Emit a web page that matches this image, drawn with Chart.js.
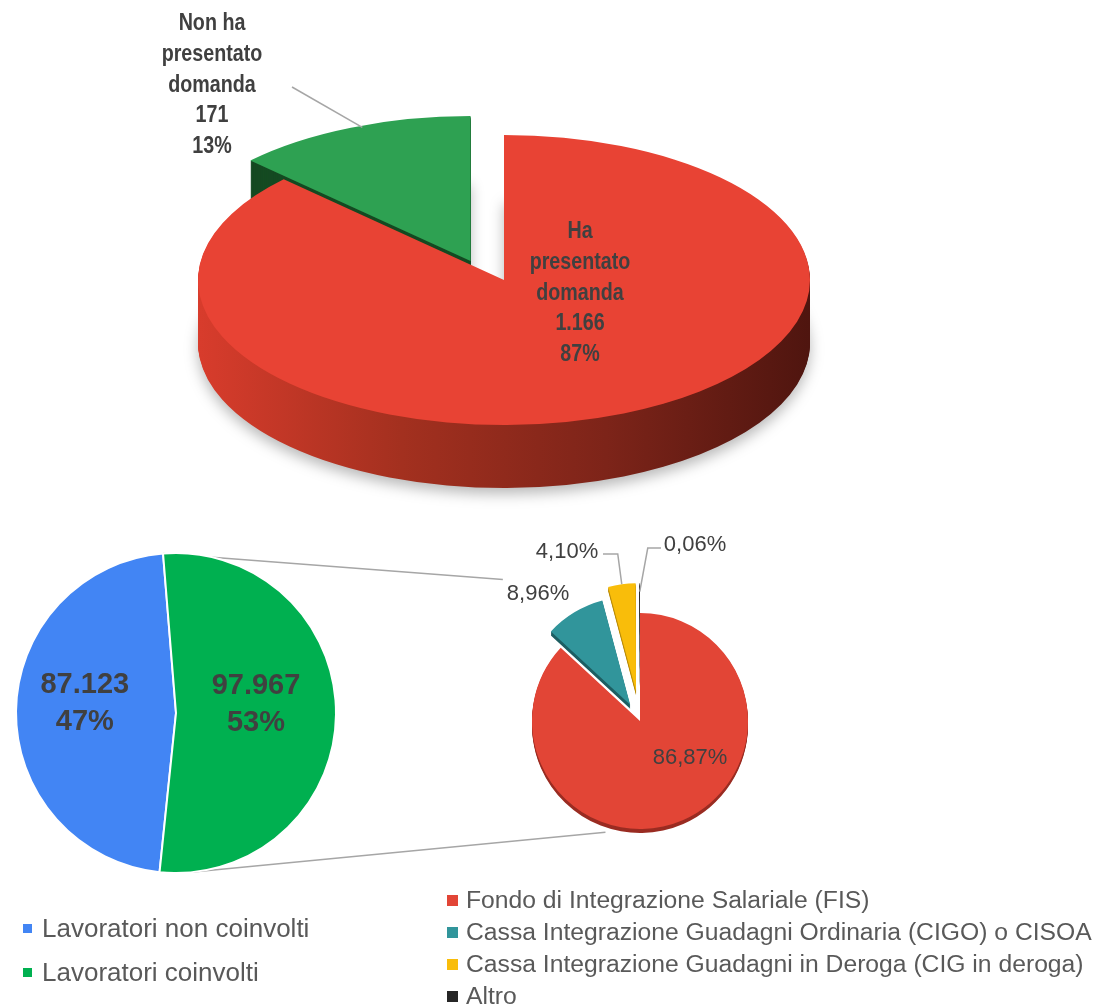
<!DOCTYPE html>
<html lang="it">
<head>
<meta charset="utf-8">
<title>Domande e lavoratori coinvolti</title>
<script src="https://cdn.jsdelivr.net/npm/chart.js@4.4.1/dist/chart.umd.min.js"></script>
<style>
  html, body { margin: 0; padding: 0; background: #fff; }
  body { position: relative; width: 1096px; height: 1005px; overflow: hidden; font-family: Arial, "Liberation Sans", sans-serif; }
  .pane { position: absolute; }
  .pane canvas { display: block; }
  #links { position: absolute; left: 0; top: 0; }
  .legend-item { position: absolute; white-space: nowrap; color: #595959; display: flex; align-items: center; height: 30px; }
  .legend-item i { display: inline-block; flex: none; }
</style>
</head>
<body>
<canvas id="links" width="1096" height="1005"></canvas>
<div class="pane" style="left:0;top:0"><canvas id="topChart" width="1096" height="520"></canvas></div>
<div class="pane" style="left:0;top:520px"><canvas id="workChart" width="352" height="386"></canvas></div>
<div class="pane" style="left:480px;top:520px"><canvas id="fundChart" width="320" height="402"></canvas></div>
<div id="legends"></div>
<script>
// Data
const topLabels = ['Ha presentato domanda', 'Non ha presentato domanda'];
const topValues = [1166, 171];

const workLabels = ['Lavoratori non coinvolti', 'Lavoratori coinvolti'];
const workValues = [87123, 97967];

const fundLabels = [
    'Fondo di Integrazione Salariale (FIS)',
    'Cassa Integrazione Guadagni Ordinaria (CIGO) o CISOA',
    'Cassa Integrazione Guadagni in Deroga (CIG in deroga)',
    'Altro'
];
const fundShares = [86.87, 8.96, 4.10, 0.06];

// Colours
const topColors = ['#e84334', '#2ea152'];
const workColors = ['#4285f4', '#00b050'];
const fundColors = ['#e24536', '#31959b', '#f9bd0a', '#262626'];

const TEXT = '#404040';
const LINE = '#a6a6a6';

// Helpers
const fmtInt = (n) => String(Math.round(n)).replace(/\B(?=(\d{3})+(?!\d))/g, '.');
const fmtPct0 = (v, total) => Math.round(v / total * 100) + '%';
const fmtPct2 = (v) => v.toFixed(2).replace('.', ',') + '%';
const sum = (arr) => arr.reduce((a, b) => a + b, 0);

function wrapWords(ctx, text, maxWidth, sx) {
    const words = text.split(' ');
    const lines = [];
    let cur = '';
    words.forEach(w => {
        const test = cur ? cur + ' ' + w : w;
        if (cur && ctx.measureText(test).width * sx > maxWidth) {
            lines.push(cur);
            cur = w;
        } else {
            cur = test;
        }
    });
    if (cur) lines.push(cur);
    return lines;
}

function drawLines(ctx, lines, x, y, lh, font, sx) {
    ctx.save();
    ctx.font = font;
    ctx.fillStyle = TEXT;
    ctx.textAlign = 'center';
    ctx.textBaseline = 'middle';
    const y0 = y - (lines.length - 1) * lh / 2;
    lines.forEach((t, i) => {
        ctx.save();
        ctx.translate(x, y0 + i * lh);
        ctx.scale(sx, 1);
        ctx.fillText(t, 0, 0);
        ctx.restore();
    });
    ctx.restore();
}

function polyline(ctx, pts) {
    ctx.save();
    ctx.strokeStyle = LINE;
    ctx.lineWidth = 1.5;
    ctx.beginPath();
    pts.forEach((p, i) => i ? ctx.lineTo(p[0], p[1]) : ctx.moveTo(p[0], p[1]));
    ctx.stroke();
    ctx.restore();
}

// Moves exploded slices out by a distance (px); direction is the bisector
// unless an angle (degrees, clockwise from 12 o'clock) is given
const makeExplode = (distance, angles) => ({
    id: 'explode',
    afterDatasetsUpdate(chart) {
        chart.getDatasetMeta(0).data.forEach((arc, i) => {
            const d = distance[i] || 0;
            if (!d) return;
            let dir = (arc.startAngle + arc.endAngle) / 2;
            if (angles && angles[i] != null) dir = (angles[i] - 90) * Math.PI / 180;
            arc.x += Math.cos(dir) * d;
            arc.y += Math.sin(dir) * d;
        });
    }
});

// Tilts the pie and draws a solid side under each slice
const makeExtrude = (cfg) => ({
    id: 'extrude',
    beforeDatasetsDraw(chart) {
        const ctx = chart.ctx;
        const arcs = chart.getDatasetMeta(0).data;
        const cx = (chart.chartArea.left + chart.chartArea.right) / 2;
        const cy = (chart.chartArea.top + chart.chartArea.bottom) / 2;
        const R = arcs[0].outerRadius;
        ctx.save();
        ctx.translate(cx, cy);
        ctx.scale(1, cfg.tilt);
        ctx.translate(-cx, -cy);
        const fills = cfg.sides.map(s => {
            if (!Array.isArray(s)) return s;
            const g = ctx.createLinearGradient(cx - R, 0, cx + R, 0);
            s.forEach((c, i) => g.addColorStop(i / (s.length - 1), c));
            return g;
        });
        for (let d = cfg.depth; d > 0; d -= 1) {
            ctx.save();
            ctx.translate(0, d / cfg.tilt);
            if (d === cfg.depth && cfg.shadow) {
                ctx.shadowColor = cfg.shadow;
                ctx.shadowBlur = 14;
                ctx.shadowOffsetY = 6;
            }
            arcs.forEach((arc, i) => {
                const saved = arc.options;
                arc.options = Object.assign({}, saved, {
                    backgroundColor: fills[i], borderColor: fills[i], borderWidth: 0
                });
                arc.draw(ctx);
                arc.options = saved;
            });
            ctx.restore();
        }
    },
    afterDatasetsDraw(chart) {
        chart.ctx.restore();
    }
});

Chart.defaults.font.family = 'Arial, "Liberation Sans", sans-serif';

// Top 3D pie
const TILT = 0.474;
const topTotal = sum(topValues);

const topLabelPlugin = {
    id: 'topLabels',
    afterDraw(chart) {
        const ctx = chart.ctx;
        const cx = (chart.chartArea.left + chart.chartArea.right) / 2;
        const cy = (chart.chartArea.top + chart.chartArea.bottom) / 2;
        const font = 'bold 24px Arial, "Liberation Sans", sans-serif';
        const sx = 0.82;
        ctx.save();
        ctx.font = font;
        const lineSets = topLabels.map((lab, i) => wrapWords(ctx, lab, 110, sx)
            .concat([fmtInt(topValues[i]), fmtPct0(topValues[i], topTotal)]));
        ctx.restore();

        // inside label
        drawLines(ctx, lineSets[0], cx + 76, cy + 13, 30.8, font, sx);

        // outside label with leader
        const lx = cx - 292, ly = cy - 195;
        drawLines(ctx, lineSets[1], lx, ly, 30.6, font, sx);
        const arc = chart.getDatasetMeta(0).data[1];
        const a = arc.startAngle + 0.55 * (arc.endAngle - arc.startAngle);
        const px = arc.x + arc.outerRadius * Math.cos(a);
        const py = cy + (arc.y + arc.outerRadius * Math.sin(a) - cy) * TILT;
        polyline(ctx, [[lx + 80, ly + 2], [px, py + 2]]);
    }
};

const topChart = new Chart(document.getElementById('topChart'), {
    type: 'pie',
    data: {
        labels: topLabels,
        datasets: [{
            data: topValues,
            backgroundColor: topColors,
            borderWidth: 0,
            clip: false,
            radius: 306
        }]
    },
    options: {
        responsive: false,
        animation: false,
        events: [],
        radius: 306,
        layout: { padding: { left: 0, right: 88, top: 40, bottom: 0 } },
        plugins: { legend: { display: false }, tooltip: { enabled: false } }
    },
    plugins: [
        makeExplode([0, 52], [null, -40]),
        makeExtrude({ tilt: TILT, depth: 63, sides: [['#d83c2c', '#a3301f', '#7d2419', '#4f150f'], '#154a22'], shadow: 'rgba(0,0,0,0.28)' }),
        topLabelPlugin
    ]
});

// Bottom-left pie
const workTotal = sum(workValues);
const workLabelPlugin = {
    id: 'workLabels',
    afterDraw(chart) {
        const ctx = chart.ctx;
        const frac = [0.57, 0.5];
        chart.getDatasetMeta(0).data.forEach((arc, i) => {
            const mid = (arc.startAngle + arc.endAngle) / 2;
            const x = arc.x + Math.cos(mid) * arc.outerRadius * frac[i];
            const y = arc.y + Math.sin(mid) * arc.outerRadius * frac[i];
            drawLines(ctx, [fmtInt(workValues[i]), fmtPct0(workValues[i], workTotal)],
                x, y - 9, 37, 'bold 29px Arial, "Liberation Sans", sans-serif', 1);
        });
    }
};

const workChart = new Chart(document.getElementById('workChart'), {
    type: 'pie',
    data: {
        labels: workLabels,
        datasets: [{
            data: workValues,
            backgroundColor: workColors,
            borderColor: '#ffffff',
            borderWidth: 2,
            radius: 160,
            rotation: 185.9
        }]
    },
    options: {
        responsive: false,
        animation: false,
        events: [],
        radius: 160,
        rotation: 185.9,
        plugins: { legend: { display: false }, tooltip: { enabled: false } }
    },
    plugins: [workLabelPlugin]
});

// Bottom-right pie (breakdown of "Lavoratori coinvolti")
const fundLabelPlugin = {
    id: 'fundLabels',
    afterDraw(chart) {
        const ctx = chart.ctx;
        const arcs = chart.getDatasetMeta(0).data;
        const cx = (chart.chartArea.left + chart.chartArea.right) / 2;
        const cy = (chart.chartArea.top + chart.chartArea.bottom) / 2;
        const font = '22px Arial, "Liberation Sans", sans-serif';
        const pos = [[50, 37], [-102, -127], [-73, -169], [55, -176]];
        fundShares.forEach((v, i) => {
            drawLines(ctx, [fmtPct2(v)], cx + pos[i][0], cy + pos[i][1], 0, font, 1);
        });
        const outer = (arc, f) => {
            const mid = (arc.startAngle + arc.endAngle) / 2;
            return [arc.x + Math.cos(mid) * arc.outerRadius * f, arc.y + Math.sin(mid) * arc.outerRadius * f];
        };
        const y3 = outer(arcs[2], 1.0);
        const ly3 = cy + pos[2][1] + 2;
        polyline(ctx, [[cx + pos[2][0] + 36, ly3], [y3[0] - 4, ly3], y3]);
        const b4 = outer(arcs[3], 0.92);
        const ly4 = cy + pos[3][1] + 3;
        polyline(ctx, [[cx + pos[3][0] - 34, ly4], [b4[0] + 8, ly4], b4]);
    }
};

const fundChart = new Chart(document.getElementById('fundChart'), {
    type: 'pie',
    data: {
        labels: fundLabels,
        datasets: [{
            data: fundShares,
            backgroundColor: fundColors,
            borderWidth: 0,
            clip: false,
            radius: 108
        }]
    },
    options: {
        responsive: false,
        animation: false,
        events: [],
        radius: 108,
        plugins: { legend: { display: false }, tooltip: { enabled: false } }
    },
    plugins: [
        makeExplode([0, 19, 30, 30]),
        makeExtrude({ tilt: 1, depth: 4, sides: ['#9a2c22', '#1d5e62', '#b98b08', '#111111'] }),
        fundLabelPlugin
    ]
});

// Connector lines between the two bottom pies
function drawLinks() {
    const ctx = document.getElementById('links').getContext('2d');
    const wRect = workChart.canvas.getBoundingClientRect();
    const fRect = fundChart.canvas.getBoundingClientRect();
    const g = workChart.getDatasetMeta(0).data[1];
    const fa = fundChart.chartArea;
    const fcx = fRect.left + (fa.left + fa.right) / 2;
    const fcy = fRect.top + (fa.top + fa.bottom) / 2;
    const fr = fundChart.getDatasetMeta(0).data[0].outerRadius;
    const gx = wRect.left + g.x, gy = wRect.top + g.y;
    const topStart = [gx + g.outerRadius * Math.cos(g.startAngle), gy + g.outerRadius * Math.sin(g.startAngle)];
    const botAngle = Math.PI / 2 - 0.09;
    const botStart = [gx + g.outerRadius * Math.cos(botAngle), gy + g.outerRadius * Math.sin(botAngle)];
    polyline(ctx, [topStart, [fcx - 1.27 * fr, fcy - 1.31 * fr]]);
    polyline(ctx, [botStart, [fcx - 0.32 * fr, fcy + 1.03 * fr]]);
}
drawLinks();

// Legends
function buildLegend(labels, colors, opts) {
    const host = document.getElementById('legends');
    labels.forEach((label, i) => {
        const row = document.createElement('div');
        row.className = 'legend-item';
        row.style.left = opts.left + 'px';
        row.style.top = (opts.rows[i] - 15) + 'px';
        row.style.fontSize = opts.fontSize + 'px';
        const sw = document.createElement('i');
        sw.style.width = opts.box + 'px';
        sw.style.height = opts.box + 'px';
        sw.style.marginRight = opts.gap + 'px';
        sw.style.background = colors[i];
        row.appendChild(sw);
        row.appendChild(document.createTextNode(label));
        host.appendChild(row);
    });
}

buildLegend(workLabels, workColors, { left: 23, rows: [928, 972], fontSize: 26, box: 9, gap: 10 });
buildLegend(fundLabels, fundColors, { left: 447, rows: [900, 932, 964, 996], fontSize: 24.7, box: 11, gap: 8 });
</script>
</body>
</html>
